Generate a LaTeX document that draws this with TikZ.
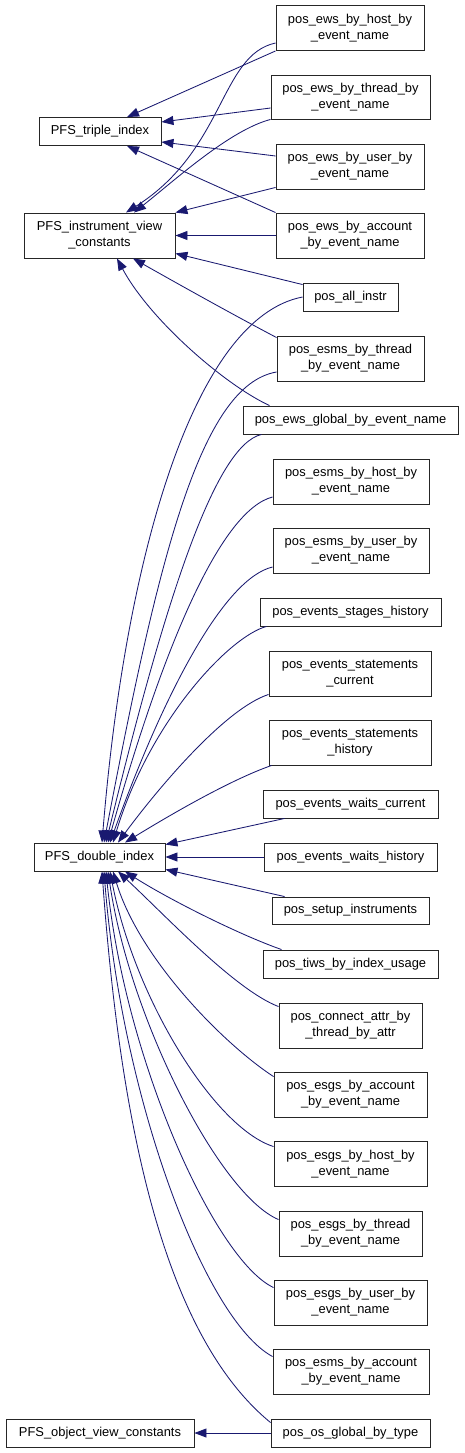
\documentclass[tikz,border=0pt]{standalone}
\usepackage{fontspec}
\setmainfont{Liberation Sans}
\usetikzlibrary{arrows.meta}
\definecolor{edgeblue}{RGB}{25,25,112}
\begin{document}
\begin{tikzpicture}[x=1pt,y=-1pt,
  box/.style={draw=black!85, line width=0.9pt, fill=white, align=center, inner sep=0pt, font=\fontsize{12.9}{16}\selectfont},
  one/.style={box, minimum height=28pt},
  two/.style={box, minimum height=45pt},
  edge/.style={draw=edgeblue, line width=0.85pt, -{Triangle[length=12pt,width=9pt]}}]
\useasboundingbox (0,0) rectangle (464,1453);

% left nodes
\node[one, minimum width=122pt] (triple) at (100,131.5) {PFS\_triple\_index};
\node[two, minimum width=151pt] (ivc) at (99.5,235.5) {PFS\_instrument\_view\\\_constants};
\node[one, minimum width=131pt] (di) at (99.5,857) {PFS\_double\_index};
\node[one, minimum width=188pt] (objview) at (100,1433) {PFS\_object\_view\_constants};

% right nodes
\node[two, minimum width=148pt] (ewshost) at (350,28) {pos\_ews\_by\_host\_by\\\_event\_name};
\node[two, minimum width=159pt, minimum height=44pt] (ewsthread) at (350.5,97) {pos\_ews\_by\_thread\_by\\\_event\_name};
\node[two, minimum width=148pt] (ewsuser) at (350,166.5) {pos\_ews\_by\_user\_by\\\_event\_name};
\node[two, minimum width=148pt] (ewsaccount) at (350,235.5) {pos\_ews\_by\_account\\\_by\_event\_name};
\node[one, minimum width=95pt] (allinstr) at (350.5,297) {pos\_all\_instr};
\node[two, minimum width=147pt] (esmsthread) at (350.5,358.5) {pos\_esms\_by\_thread\\\_by\_event\_name};
\node[one, minimum width=215pt] (ewsglobal) at (350.5,420) {pos\_ews\_global\_by\_event\_name};
\node[two, minimum width=156pt] (esmshost) at (351,481.5) {pos\_esms\_by\_host\_by\\\_event\_name};
\node[two, minimum width=156pt] (esmsuser) at (351,550.5) {pos\_esms\_by\_user\_by\\\_event\_name};
\node[one, minimum width=181pt] (stages) at (350.5,612) {pos\_events\_stages\_history};
\node[two, minimum width=162pt] (stmtscur) at (350,673.5) {pos\_events\_statements\\\_current};
\node[two, minimum width=162pt] (stmtshist) at (350,742.5) {pos\_events\_statements\\\_history};
\node[one, minimum width=175pt] (waitscur) at (350.5,804) {pos\_events\_waits\_current};
\node[one, minimum width=173pt] (waitshist) at (350.5,857) {pos\_events\_waits\_history};
\node[one, minimum width=157pt, minimum height=27pt] (setup) at (350.5,910.5) {pos\_setup\_instruments};
\node[one, minimum width=175pt] (tiws) at (350.5,964) {pos\_tiws\_by\_index\_usage};
\node[two, minimum width=143pt] (connect) at (350.5,1025.5) {pos\_connect\_attr\_by\\\_thread\_by\_attr};
\node[two, minimum width=153pt] (esgsacc) at (350.5,1094.5) {pos\_esgs\_by\_account\\\_by\_event\_name};
\node[two, minimum width=153pt] (esgshost) at (350.5,1164) {pos\_esgs\_by\_host\_by\\\_event\_name};
\node[two, minimum width=143pt] (esgsthread) at (350.5,1233.5) {pos\_esgs\_by\_thread\\\_by\_event\_name};
\node[two, minimum width=153pt] (esgsuser) at (350.5,1302.5) {pos\_esgs\_by\_user\_by\\\_event\_name};
\node[two, minimum width=156pt] (esmsacc) at (351,1371.5) {pos\_esms\_by\_account\\\_by\_event\_name};
\node[one, minimum width=159pt] (osglobal) at (350.5,1433) {pos\_os\_global\_by\_type};

% edges to PFS_triple_index
\draw[edge] (ewshost.south west) -- ([xshift=27pt]triple.north);
\draw[edge] ([yshift=-11pt]ewsthread.west) -- ([yshift=9.5pt]triple.east);
\draw[edge] ([yshift=10.5pt]ewsuser.west) -- ([yshift=-10.5pt]triple.east);
\draw[edge] (ewsaccount.north west) -- ([xshift=27pt]triple.south);

% edges to PFS_instrument_view_constants
\draw[edge] ([yshift=-15pt]ewshost.west) .. controls (220,55) and (225,150) .. ([xshift=26.5pt]ivc.north);
\draw[edge] (ewsthread.south west) .. controls (230,130) and (175,180) .. ([xshift=34.5pt]ivc.north);
\draw[edge] ([yshift=2pt]ewsuser.south west) -- (ivc.north east);
\draw[edge] (ewsaccount.west) -- (ivc.east);
\draw[edge] ([yshift=-2pt]allinstr.north west) -- ([yshift=5pt]ivc.south east);
\draw[edge] ([yshift=-2pt]esmsthread.north west) .. controls (230,313) and (180,285) .. ([xshift=33.5pt]ivc.south);
\draw[edge] ([xshift=27pt]ewsglobal.north west) .. controls (225,385) and (150,320) .. ([xshift=17.5pt]ivc.south);

% edges to PFS_double_index (upper)
\draw[edge] (allinstr.west) .. controls (193,318) and (125,560) .. ([xshift=2.5pt]di.north);
\draw[edge] ([yshift=-13.5pt]esmsthread.west) .. controls (200,385) and (158,560) .. ([xshift=4.5pt]di.north);
\draw[edge] ([xshift=19pt]ewsglobal.south west) .. controls (215,445) and (165,600) .. ([xshift=6.5pt]di.north);
\draw[edge] ([yshift=-15.5pt]esmshost.west) .. controls (222,510) and (165,640) .. ([xshift=8.5pt]di.north);
\draw[edge] ([yshift=-16.5pt]esmsuser.west) .. controls (225,578) and (165,690) .. ([xshift=10.5pt]di.north);
\draw[edge] ([xshift=7pt]stages.south west) .. controls (230,636) and (150,720) .. ([xshift=13.5pt]di.north);
\draw[edge] ([yshift=2pt]stmtscur.south west) .. controls (224,709) and (156,791) .. ([xshift=18.5pt]di.north);
\draw[edge] ([xshift=3pt]stmtshist.south west) .. controls (230,780) and (170,815) .. ([xshift=25.5pt]di.north);
\draw[edge] ([xshift=22pt]waitscur.south west) -- ([yshift=-2pt]di.north east);
\draw[edge] (waitshist.west) -- (di.east);
\draw[edge] ([xshift=13pt]setup.north west) -- ([yshift=2pt]di.south east);

% edges to PFS_double_index (lower)
\draw[edge] ([xshift=19pt]tiws.north west) .. controls (240,935) and (170,900) .. ([xshift=25.5pt]di.south);
\draw[edge] ([yshift=-4pt]connect.north west) .. controls (235,990) and (165,915) .. ([xshift=18.5pt]di.south);
\draw[edge] ([yshift=-5pt]esgsacc.north west) .. controls (225,1045) and (140,960) .. ([xshift=13.5pt]di.south);
\draw[edge] ([yshift=-5.5pt]esgshost.north west) .. controls (215,1128) and (135,1000) .. ([xshift=10.5pt]di.south);
\draw[edge] ([yshift=-9pt]esgsthread.north west) .. controls (220,1195) and (130,1020) .. ([xshift=8.5pt]di.south);
\draw[edge] ([yshift=-8pt]esgsuser.north west) .. controls (215,1260) and (125,1060) .. ([xshift=6.5pt]di.south);
\draw[edge] ([yshift=-8pt]esmsacc.north west) .. controls (205,1320) and (122,1100) .. ([xshift=4.5pt]di.south);
\draw[edge] ([yshift=-4pt]osglobal.north west) .. controls (170,1340) and (122,1147) .. ([xshift=2.5pt]di.south);

% edge to PFS_object_view_constants
\draw[edge] (osglobal.west) -- (objview.east);
\end{tikzpicture}
\end{document}
